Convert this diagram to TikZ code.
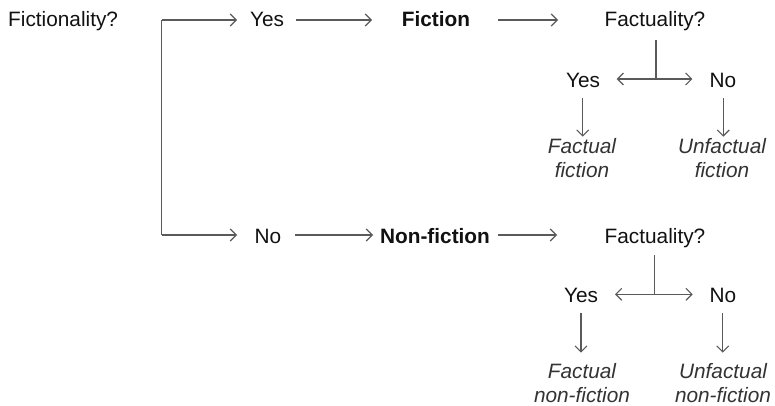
\documentclass[tikz,border=0pt]{standalone}
\usepackage{fontspec}
\setmainfont{Liberation Sans}
\usetikzlibrary{arrows.meta}
\definecolor{linegray}{HTML}{5A5A5A}
\definecolor{textdark}{HTML}{111111}
\definecolor{itdark}{HTML}{333333}
\tikzset{
  lbl/.style={inner sep=0pt, anchor=base, text=textdark, font=\fontsize{20.8}{24}\selectfont},
  bld/.style={lbl, font=\fontsize{20.8}{24}\selectfont\bfseries},
  itl/.style={lbl, align=center, text=itdark, font=\fontsize{20.8}{24}\selectfont\itshape},
  conn/.style={draw=linegray, line width=1.1pt},
  arr/.style={conn, -{Straight Barb[length=6pt,width=12pt,line width=1.1pt]}},
}
\begin{document}
\begin{tikzpicture}[x=1pt,y=-1pt]
\useasboundingbox (0,0) rectangle (775,406);
% texts
\node[lbl, anchor=base west] (q) at (8,27) {Fictionality?};
\node[lbl] (yesA) at (267,27) {Yes};
\node[bld] (fic) at (436,27) {Fiction};
\node[lbl] (factA) at (655,27) {Factuality?};
\node[lbl] (yesA2) at (583,88) {Yes};
\node[lbl] (noA2) at (723,88) {No};
\node[itl] (ffic) at (582,177) {Factual\\fiction};
\node[itl] (ufic) at (722,177) {Unfactual\\fiction};

\node[lbl] (noB) at (268,243) {No};
\node[bld] (nfic) at (435,243) {Non-fiction};
\node[lbl] (factB) at (655,243) {Factuality?};
\node[lbl] (yesB2) at (581,302) {Yes};
\node[lbl] (noB2) at (723,302) {No};
\node[itl] (fnf) at (582,402) {Factual\\non-fiction};
\node[itl] (unf) at (723,402) {Unfactual\\non-fiction};

% coordinates
\coordinate (bt) at (161.7,20);
\coordinate (bb) at (161.7,235);
\coordinate (yesAin) at (237,20);
\coordinate (noBin) at (237,235);
\coordinate (yesAout) at (296,20);
\coordinate (ficin) at (372,20);
\coordinate (ficout) at (498,20);
\coordinate (factAin) at (558,20);
\coordinate (noBout) at (295,235);
\coordinate (nficin) at (373,235);
\coordinate (nficout) at (498,235);
\coordinate (factBin) at (557,235);

\coordinate (fAtop) at (656,40);
\coordinate (fAmid) at (656,79);
\coordinate (fAl) at (616.7,79);
\coordinate (fAr) at (692.3,79);
\coordinate (yA2top) at (582.7,98.3);
\coordinate (yA2bot) at (582.7,136.7);
\coordinate (nA2top) at (723.3,98.3);
\coordinate (nA2bot) at (723.3,136.7);

\coordinate (fBtop) at (654.5,255);
\coordinate (fBmid) at (654.5,294.3);
\coordinate (fBl) at (615,294.3);
\coordinate (fBr) at (692.7,294.3);
\coordinate (yB2top) at (581,313.3);
\coordinate (yB2bot) at (581,352.7);
\coordinate (nB2top) at (722.7,313.3);
\coordinate (nB2bot) at (722.7,352.7);

% connectors
\draw[conn] (bt) -- (bb);
\draw[arr] (bt) -- (yesAin);
\draw[arr] (bb) -- (noBin);
\draw[arr] (yesAout) -- (ficin);
\draw[arr] (ficout) -- (factAin);
\draw[arr] (noBout) -- (nficin);
\draw[arr] (nficout) -- (factBin);

\draw[conn] (fAtop) -- (fAmid);
\draw[arr] (fAmid) -- (fAl);
\draw[arr] (fAmid) -- (fAr);
\draw[arr] (yA2top) -- (yA2bot);
\draw[arr] (nA2top) -- (nA2bot);

\draw[conn] (fBtop) -- (fBmid);
\draw[arr] (fBmid) -- (fBl);
\draw[arr] (fBmid) -- (fBr);
\draw[arr] (yB2top) -- (yB2bot);
\draw[arr] (nB2top) -- (nB2bot);
\end{tikzpicture}
\end{document}
